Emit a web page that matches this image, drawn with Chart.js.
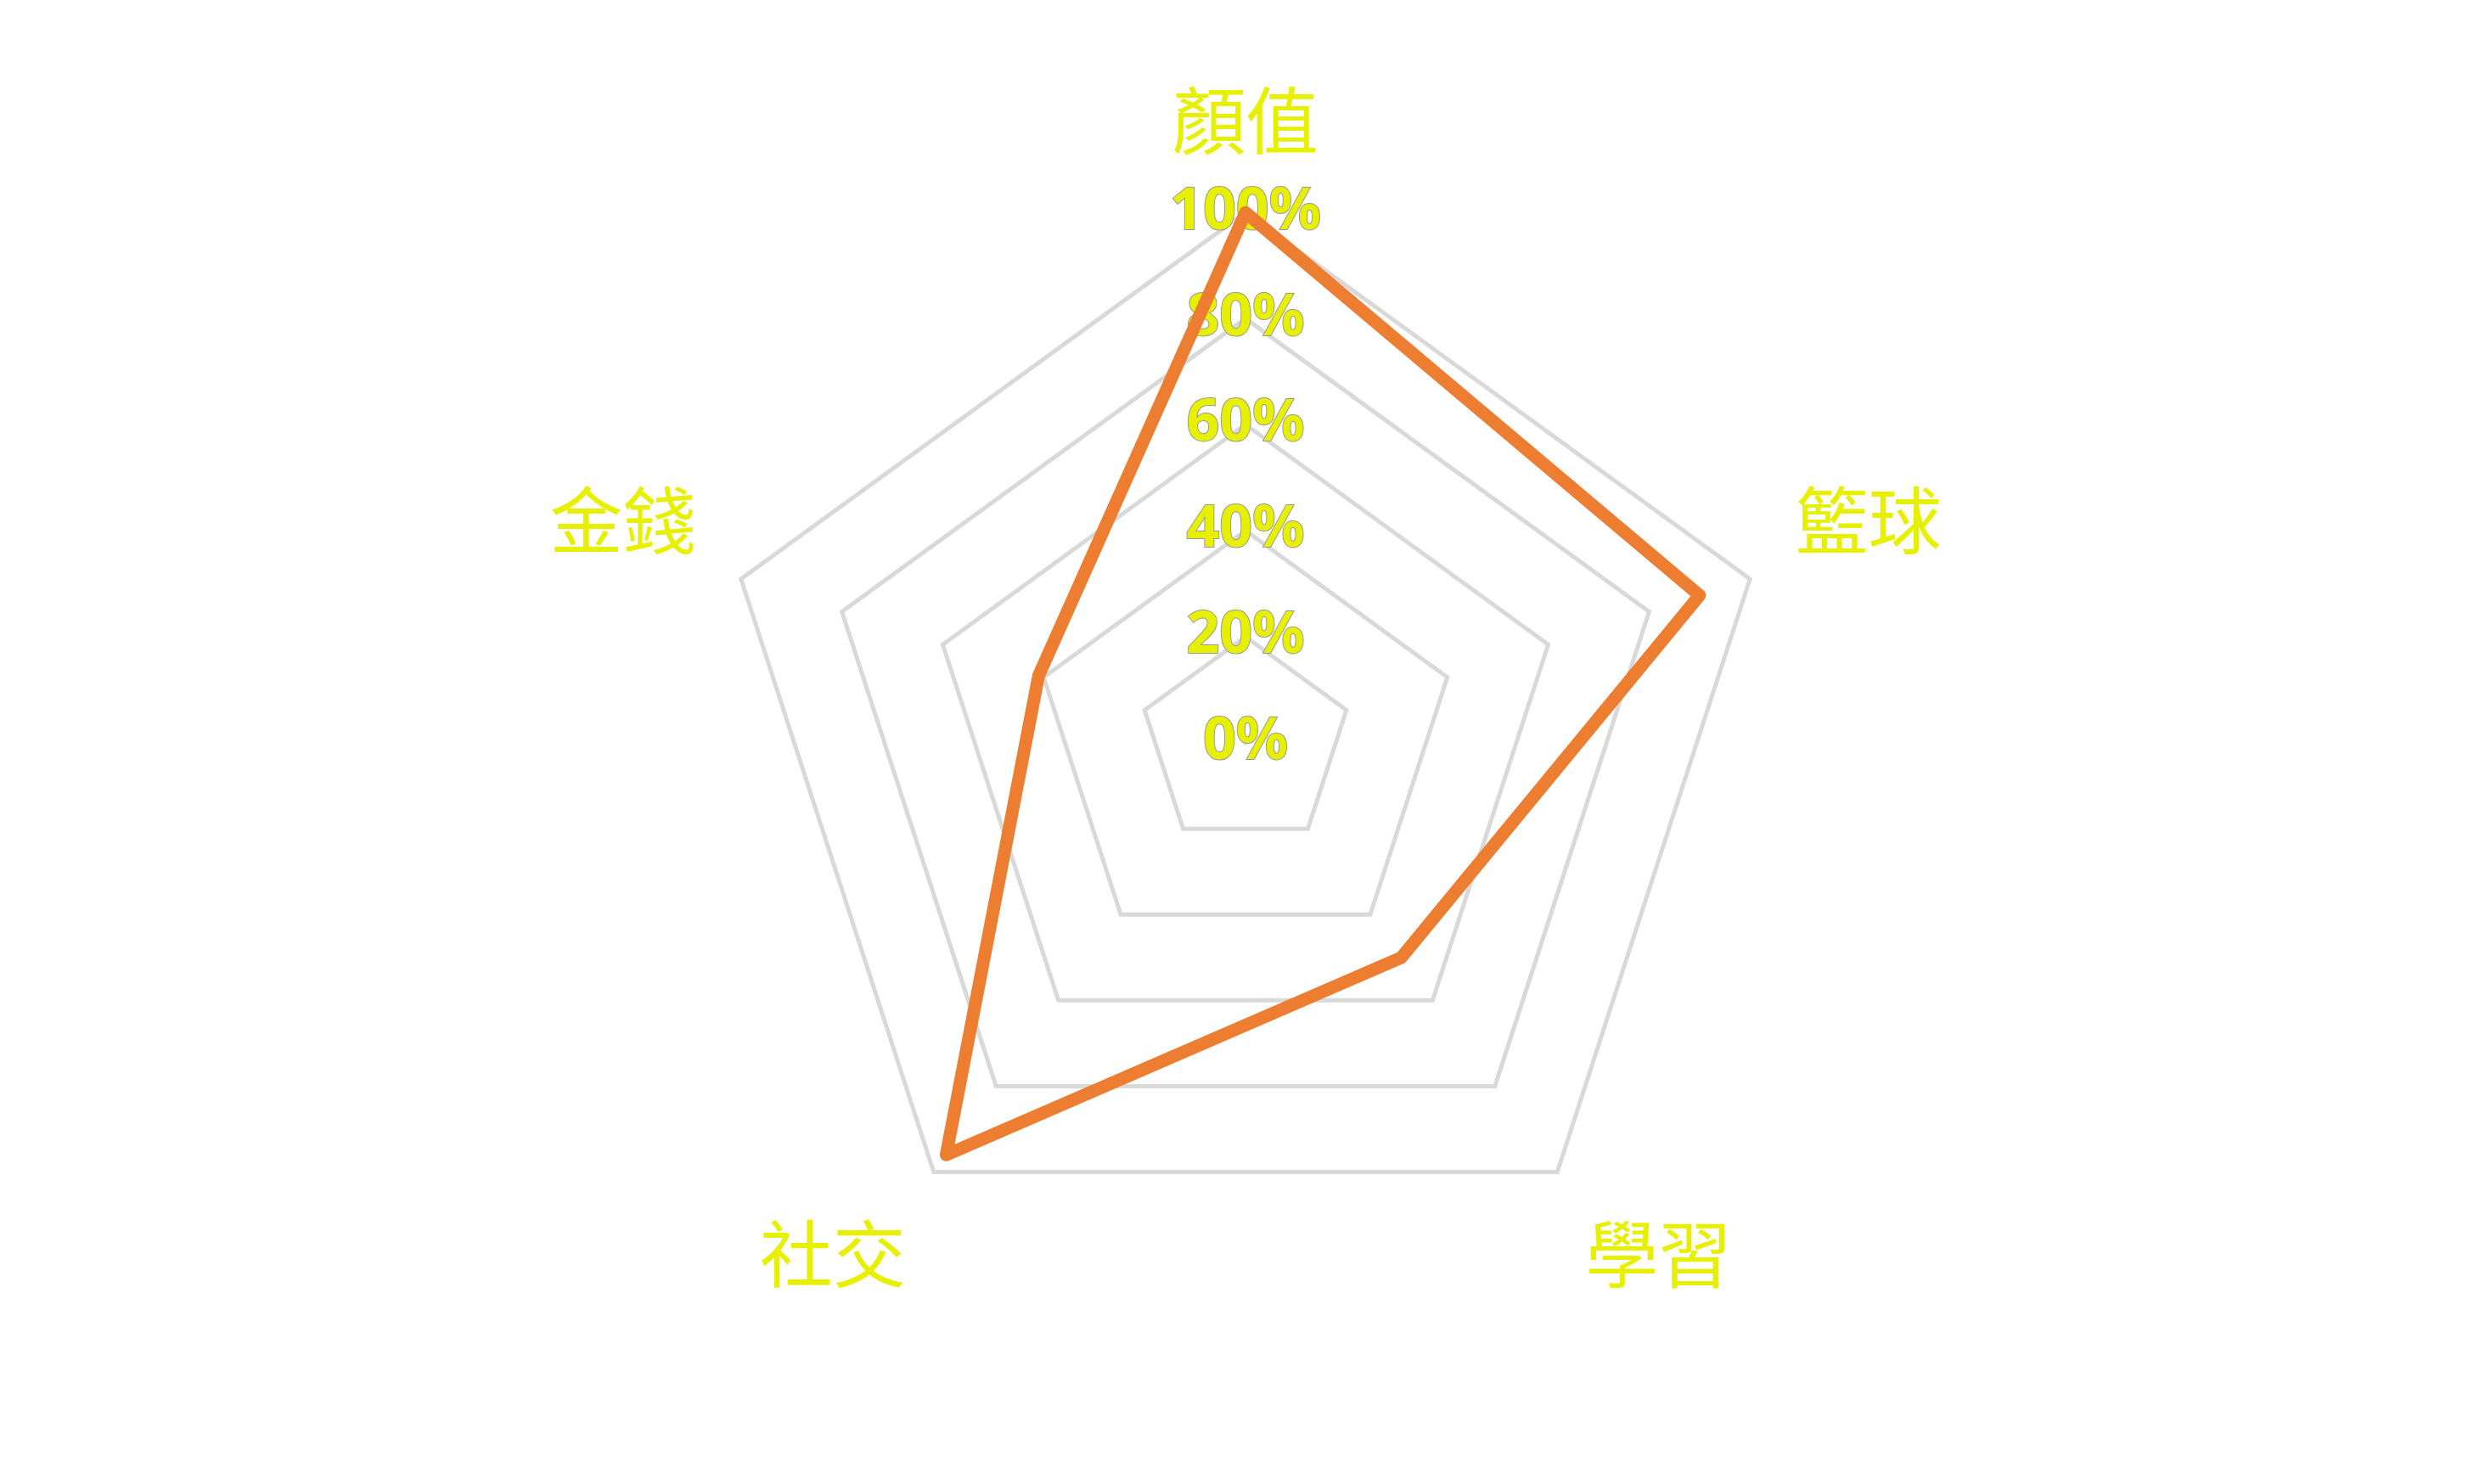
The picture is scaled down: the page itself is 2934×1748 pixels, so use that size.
<!DOCTYPE html>
<html><head><meta charset="utf-8">
<script src="https://cdn.jsdelivr.net/npm/chart.js@4"></script>
<style>html,body{margin:0;background:#fff}#wrap{width:2934px;height:1748px}</style>
</head><body>
<div id="wrap"><canvas id="c"></canvas></div>
<script>
const categories = ["顏值", "籃球", "學習", "社交", "金錢"];
const scores = [1.00, 0.90, 0.50, 0.96, 0.41];
const tickValues = [0, 0.2, 0.4, 0.6, 0.8, 1.0];

new Chart(document.getElementById("c"), {
  type: "radar",
  data: {
    labels: categories,
    datasets: [{
      data: scores,
      borderColor: "#ed7d31",
      borderWidth: 15,
      fill: false,
      pointRadius: 0,
      borderJoinStyle: "round"
    }]
  },
  options: {
    responsive: true,
    maintainAspectRatio: false,
    animation: false,
    layout: { padding: { top: 30, bottom: 150, left: 20, right: 20 } },
    plugins: { legend: { display: false }, tooltip: { enabled: false } },
    scales: {
      r: {
        min: -0.0001, max: 1,
        angleLines: { display: false },
        grid: { color: "#d9d9d9", lineWidth: 5 },
        afterBuildTicks: (s) => { s.ticks = tickValues.map(v => ({ value: v })); },
        ticks: {
          showLabelBackdrop: false,
          color: "#e6f000",
          font: { family: "Noto Sans", size: 68, weight: "bold" },
          textStrokeColor: "#999",
          textStrokeWidth: 2,
          callback: (v) => Math.round(v * 100) + "%"
        },
        pointLabels: {
          color: "#e6f000",
          font: { family: "Noto Sans CJK TC", size: 86 },
          padding: 20
        }
      }
    }
  }
});
</script>
</body></html>
